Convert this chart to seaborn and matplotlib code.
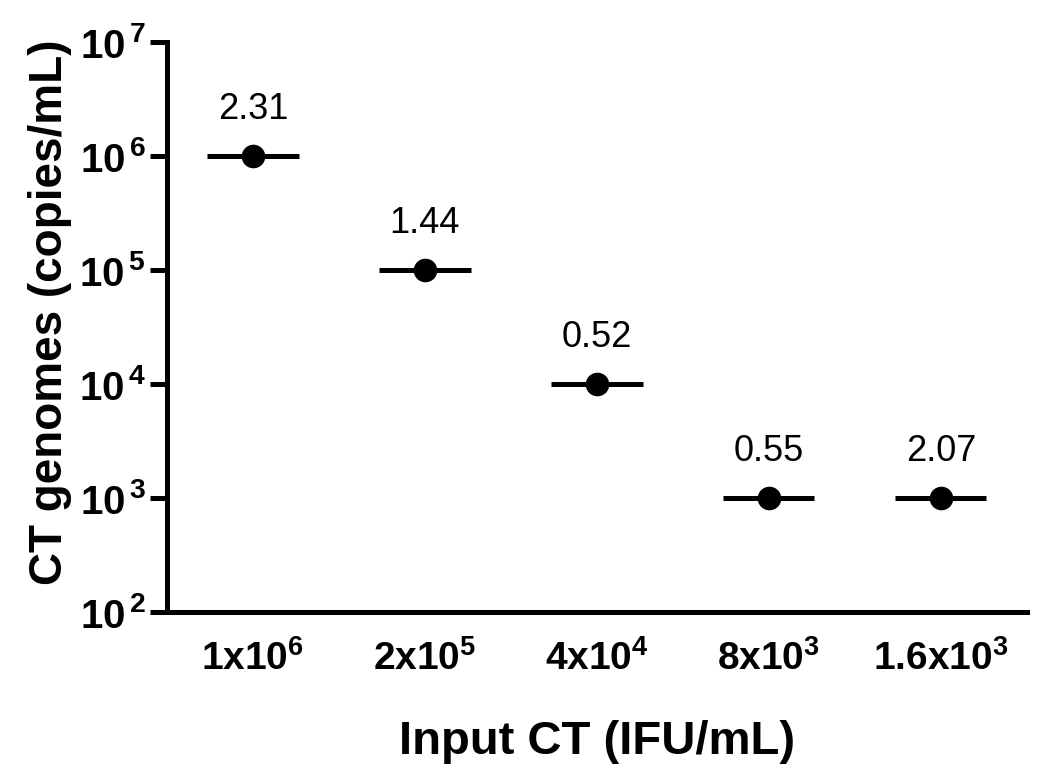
import seaborn as sns
import matplotlib
matplotlib.use("Agg")
import matplotlib.pyplot as plt
import numpy as np
import pandas as pd

# data
inputs = [r"$\mathbf{1x10^{6}}$", r"$\mathbf{2x10^{5}}$", r"$\mathbf{4x10^{4}}$",
          r"$\mathbf{8x10^{3}}$", r"$\mathbf{1.6x10^{3}}$"]
genomes = [1e6, 1e5, 1e4, 1e3, 1e3]
cv_labels = ["2.31", "1.44", "0.52", "0.55", "2.07"]
y_ticks = [1e2, 1e3, 1e4, 1e5, 1e6, 1e7]
y_ticklabels = [r"$\mathbf{10^{\,%d}}$" % p for p in range(2, 8)]

df = pd.DataFrame({"input": inputs, "genomes": genomes})

sns.set_theme(style="ticks")
plt.rcParams["font.family"] = ["Liberation Sans", "DejaVu Sans"]
plt.rcParams["mathtext.fontset"] = "custom"
plt.rcParams["mathtext.rm"] = "Liberation Sans"
plt.rcParams["mathtext.bf"] = "Liberation Sans:bold"
plt.rcParams["text.color"] = "black"
plt.rcParams["axes.labelcolor"] = "black"
plt.rcParams["xtick.color"] = "black"
plt.rcParams["ytick.color"] = "black"

fig = plt.figure(figsize=(10.5, 7.79), dpi=100)
ax = fig.add_axes([0.159, 0.214, 0.819, 0.732])

sns.stripplot(data=df, x="input", y="genomes", color="black", size=17,
              jitter=False, ax=ax, zorder=3)

# mean bars
for i, v in enumerate(df["genomes"]):
    ax.hlines(v, i - 0.265, i + 0.265, color="black", lw=3.6, zorder=2)
    ax.annotate(cv_labels[i], (i, v), xytext=(0, 21), textcoords="offset points",
                ha="center", va="bottom", fontsize=26)

ax.set_yscale("log")
ax.set_ylim(1e2, 1e7)
ax.set_xlim(-0.5, 4.5)
ax.set_yticks(y_ticks)
ax.set_yticklabels(y_ticklabels, fontsize=29)
ax.minorticks_off()
ax.tick_params(axis="y", length=12, width=3.6, pad=3)
ax.tick_params(axis="x", length=0, pad=20, labelsize=28)

for s in ["top", "right"]:
    ax.spines[s].set_visible(False)
for s in ["left", "bottom"]:
    ax.spines[s].set_linewidth(3.6)
    ax.spines[s].set_color("black")

ax.set_ylabel("CT genomes (copies/mL)", fontsize=33, fontweight="bold")
ax.yaxis.set_label_coords(-0.11, 0.526)
ax.set_xlabel("Input CT (IFU/mL)", fontsize=34, fontweight="bold", labelpad=30)

fig.savefig("out.png", dpi=100, facecolor="white")
